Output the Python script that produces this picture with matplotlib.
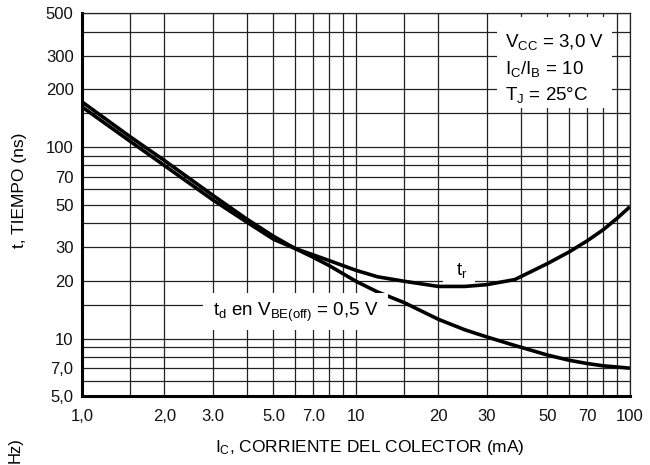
#Switching times vs collector current
import numpy as np
import matplotlib.pyplot as plt
from matplotlib.patches import Rectangle

plt.rcParams['font.family'] = ['Liberation Sans', 'DejaVu Sans']
plt.rcParams['mathtext.default'] = 'regular'

#------------- Data ----------------------------------------------
ic_ma = [1, 1.5, 2, 3, 4, 5, 6, 7, 8, 10, 12, 15, 20, 25, 30, 38, 50, 60, 70, 80, 90, 100]
t_d = [172, 113, 85, 56, 42, 34.2, 29.5, 26.5, 24, 19.9, 17.5, 15.4, 12.6, 11.1, 10.2, 9.2, 8.2, 7.7, 7.4, 7.2, 7.1, 7.0]
t_r = [162, 107, 80, 53, 40.5, 33, 29.5, 27.3, 25.5, 22.7, 21.0, 19.9, 18.7, 18.7, 19.1, 20.3, 24.6, 28.3, 32.4, 37, 42.5, 48.7]

x_major = [1, 2, 3, 5, 7, 10, 20, 30, 50, 70, 100]
x_labels = ['1,0', '2,0', '3.0', '5.0', '7.0', '10', '20', '30', '50', '70', '100']
x_minor = [1.5, 4, 6, 8, 9, 15, 40, 60, 80, 90]
y_major = [5, 7, 10, 20, 30, 50, 70, 100, 200, 300, 500]
y_labels = ['5,0', '7,0', '10', '20', '30', '50', '70', '100', '200', '300', '500']
y_minor = [6, 8, 9, 15, 40, 60, 80, 90, 150, 400]

#------------- Figure --------------------------------------------
fig = plt.figure(figsize=(6.5, 4.65), dpi=100)
ax = fig.add_axes([0.126, 0.148, 0.843, 0.824])
ax.set_xscale('log'); ax.set_yscale('log')
ax.set_xlim(1, 100); ax.set_ylim(5, 500)

ax.set_xticks(x_major); ax.set_xticklabels(x_labels)
ax.set_xticks(x_minor, minor=True); ax.set_xticklabels([], minor=True)
ax.set_yticks(y_major); ax.set_yticklabels(y_labels)
ax.set_yticks(y_minor, minor=True); ax.set_yticklabels([], minor=True)
ax.tick_params(which='both', length=0, labelsize=12, colors='#111')
ax.tick_params(axis='x', pad=9)
ax.tick_params(axis='y', pad=6)
ax.grid(True, which='both', color='#222', lw=0.9)

for side in ['top', 'right']:
    ax.spines[side].set_linewidth(0.9); ax.spines[side].set_color('#222')
for side in ['left', 'bottom']:
    ax.spines[side].set_linewidth(2.2); ax.spines[side].set_color('black')

ax.plot(ic_ma, t_d, color='black', lw=2.6, solid_capstyle='butt', zorder=2)
ax.plot(ic_ma, t_r, color='black', lw=2.6, solid_capstyle='butt', zorder=2)

#------------- Annotations ---------------------------------------
ax.add_patch(Rectangle((0.757, 0.752), 0.21, 0.238, transform=ax.transAxes,
                       facecolor='white', edgecolor='none', zorder=2.6))
ax.text(0.772, 0.911, '$V_{CC}$ = 3,0 V', transform=ax.transAxes, fontsize=13.5, va='baseline', zorder=3)
ax.text(0.772, 0.841, '$I_C/I_B$ = 10', transform=ax.transAxes, fontsize=13.5, va='baseline', zorder=3)
ax.text(0.772, 0.773, '$T_J$ = 25°C', transform=ax.transAxes, fontsize=13.5, va='baseline', zorder=3)

ax.add_patch(Rectangle((0.221, 0.172), 0.337, 0.097, transform=ax.transAxes,
                       facecolor='white', edgecolor='none', zorder=2.6))
ax.text(0.239, 0.209, '$t_d$ en $V_{BE(off)}$ = 0,5 V', transform=ax.transAxes, fontsize=13.5,
        va='baseline', zorder=3)

ax.add_patch(Rectangle((0.659, 0.295), 0.059, 0.073, transform=ax.transAxes,
                       facecolor='white', edgecolor='none', zorder=2.6))
ax.text(0.682, 0.316, '$t_r$', transform=ax.transAxes, fontsize=13.5, va='baseline', zorder=3)

fig.text(0.03, 0.59, 't, TIEMPO (ns)', rotation=90, ha='center', va='center', fontsize=12.5)
fig.text(0.569, 0.037, '$I_C$, CORRIENTE DEL COLECTOR (mA)', ha='center', va='center', fontsize=12.5)
fig.text(0.023, 0.004, 'Hz)', rotation=90, ha='center', va='bottom', fontsize=12)

fig.savefig('out.png', dpi=100)
